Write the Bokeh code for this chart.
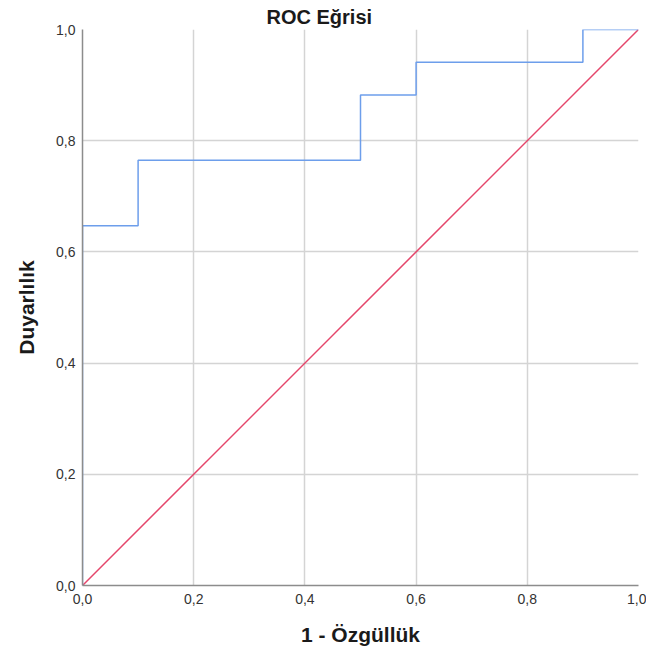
from bokeh.plotting import figure
from bokeh.models import FixedTicker, CustomJSTickFormatter, Range1d
from bokeh.embed import file_html
from bokeh.resources import INLINE

fpr = [0.0, 0.0, 0.1, 0.1, 0.5, 0.5, 0.6, 0.6, 0.9, 0.9, 1.0]
tpr = [0.0, 0.647, 0.647, 0.765, 0.765, 0.882, 0.882, 0.941, 0.941, 1.0, 1.0]
ref_x = [0.0, 1.0]
ref_y = [0.0, 1.0]
ticks = [0.0, 0.2, 0.4, 0.6, 0.8, 1.0]

p = figure(width=646, height=659, output_backend="svg", toolbar_location=None,
           x_range=Range1d(0, 1), y_range=Range1d(0, 1),
           min_border_left=82, min_border_right=8, min_border_bottom=74, min_border_top=29)

p.title.text = "ROC Eğrisi"
p.title.align = "left"
p.title.offset = 184
p.title.standoff = 4
p.title.text_font = "Liberation Sans"
p.title.text_font_size = "20px"
p.title.text_font_style = "bold"
p.title.text_color = "#1a1a1a"

p.outline_line_color = None
p.background_fill_color = "white"

fmt = CustomJSTickFormatter(code="return tick.toFixed(1).replace('.', ',');")
for ax in (p.xaxis[0], p.yaxis[0]):
    ax.ticker = FixedTicker(ticks=ticks)
    ax.formatter = fmt
    ax.major_tick_line_color = None
    ax.minor_tick_line_color = None
    ax.major_tick_out = 0
    ax.major_tick_in = 0
    ax.minor_tick_out = 0
    ax.axis_line_color = "#8c8c8c"
    ax.axis_line_width = 1.5
    ax.major_label_text_font = "Liberation Sans"
    ax.major_label_text_font_size = "14px"
    ax.major_label_text_color = "#333333"
    ax.axis_label_text_font = "Liberation Sans"
    ax.axis_label_text_font_size = "21px"
    ax.axis_label_text_font_style = "bold"
    ax.axis_label_text_color = "#1a1a1a"

p.xaxis[0].axis_label = "1 - Özgüllük"
p.yaxis[0].axis_label = "Duyarlılık"
p.xaxis[0].major_label_standoff = 8
p.xaxis[0].axis_label_standoff = 16
p.yaxis[0].major_label_standoff = 7
p.yaxis[0].axis_label_standoff = 15

p.xgrid.ticker = FixedTicker(ticks=[0.2, 0.4, 0.6, 0.8, 1.0])
p.ygrid.ticker = FixedTicker(ticks=[0.2, 0.4, 0.6, 0.8])
for g in (p.xgrid, p.ygrid):
    g.grid_line_color = "#d4d4d4"
    g.grid_line_width = 1.5

p.line(ref_x, ref_y, line_color="#e5466b", line_width=1.5)
p.line(fpr, tpr, line_color="#6d9eeb", line_width=1.5)

open("out.html", "w").write(file_html(p, INLINE))
